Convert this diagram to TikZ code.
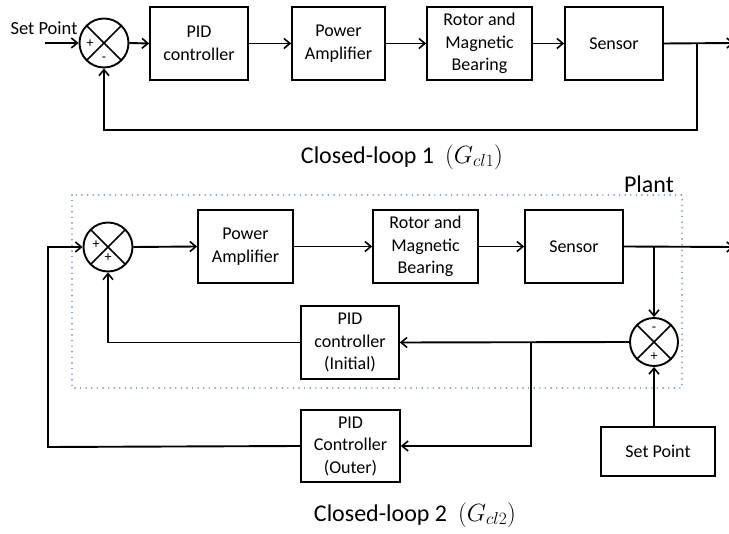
\documentclass[tikz,border=0pt]{standalone}
\usepackage{fontspec}
\setmainfont{Carlito}
\usetikzlibrary{arrows.meta}
\definecolor{plantblue}{RGB}{75,125,190}

\begin{document}
\begin{tikzpicture}[x=1pt,y=-1pt,
  wire/.style={line width=1.9pt},
  arr/.style={wire,-{Straight Barb[length=6pt,width=10pt,line width=1.6pt]}},
  blk/.style={draw, line width=1.7pt, rectangle, minimum width=#1, minimum height=73pt,
              align=center, inner sep=0pt, font=\fontsize{18}{22.5}\selectfont},
  blk/.default=98pt,
  sumjn/.style={draw, circle, line width=1.9pt, minimum size=49pt, inner sep=0pt,
              path picture={\draw[line width=1.7pt]
                (path picture bounding box.north west) -- (path picture bounding box.south east)
                (path picture bounding box.north east) -- (path picture bounding box.south west);}},
  sgn/.style={font=\fontsize{14}{14}\selectfont, inner sep=0pt},
  lbl/.style={font=\fontsize{18.5}{22}\selectfont, inner sep=0pt},
  captxt/.style={font=\fontsize{24}{28}\selectfont, inner sep=0pt},
  plantbox/.style={draw=plantblue, line width=1.6pt, line cap=round,
              dash pattern=on 0pt off 5.6pt}
]
\useasboundingbox (0,0) rectangle (729,534);

% ---------------- closed loop 1 ----------------
\node[lbl] (sp1) at (44,28) {Set Point};
\coordinate (in1) at (45,43);
\node[sumjn] (s1) at (104,43) {};
\node[sgn] (s1p) at (90,44) {+};
\node[sgn] (s1m) at (104,59) {-};
\node[blk=98pt]  (pid1) at (199,43.5) {PID\\controller};
\node[blk=93pt]  (pa1)  at (338.5,43.5) {Power\\Amplifier};
\node[blk=105pt] (rm1)  at (479.5,43.5) {Rotor and\\Magnetic\\Bearing};
\node[blk=98pt]  (sen1) at (614,43.5) {Sensor};
\coordinate (b1) at (697,43);
\coordinate (out1) at (734,43);
\coordinate (fb1) at (697,130);

\draw[arr] (in1) -- (s1.west);
\draw[arr] (s1.east) -- (pid1.west);
\draw[arr] (pid1.east) -- (pa1.west);
\draw[arr] (pa1.east) -- (rm1.west);
\draw[arr] (rm1.east) -- (sen1.west);
\draw[arr] (sen1.east) -- (out1);
\draw[arr] (b1) -- (fb1) -- (fb1 -| s1) -- (s1.south);

\node[captxt] (c1) at (402,157) {Closed-loop 1\ \ {\fontsize{23}{28}\selectfont$(G_{cl1})$}};

% ---------------- closed loop 2 ----------------
\draw[plantbox] (72,195) rectangle (682,388);
\node[captxt] (plant) at (649,184) {Plant};

\node[sumjn] (s2) at (108,247) {};
\node[sgn] (s2a) at (96,245) {+};
\node[sgn] (s2b) at (108,258) {+};
\node[blk=95pt]  (pa2)  at (245.5,246.5) {Power\\Amplifier};
\node[blk=105pt] (rm2)  at (425.5,246.5) {Rotor and\\Magnetic\\Bearing};
\node[blk=98pt]  (sen2) at (574,246.5) {Sensor};
\coordinate (out2) at (734,247);
\coordinate (b2) at (654,247);

\node[sumjn, minimum size=48pt] (s3) at (654,342) {};
\node[sgn] (s3m) at (654,329) {-};
\node[sgn] (s3p) at (654,357) {+};

\node[blk=98pt] (pidi) at (350,342.5) {PID\\controller\\(Initial)};
\node[blk=99pt, minimum height=72pt] (pido) at (350.5,446) {PID\\Controller\\(Outer)};
\node[blk=114pt, minimum height=49pt] (spb) at (658,451.5) {Set Point};
\coordinate (b3) at (531,342);
\coordinate (lo) at (48,447);

\draw[arr] (s2.east) -- (pa2.west);
\draw[arr] (pa2.east) -- (rm2.west);
\draw[arr] (rm2.east) -- (sen2.west);
\draw[arr] (sen2.east) -- (out2);
\draw[arr] (b2) -- (s3.north);
\draw[arr] (spb.north -| s3) -- (s3.south);
\draw[arr] (s3.west) -- (pidi.east);
\draw[arr] (pidi.west) -- (pidi.west -| s2) -- (s2.south);
\draw[arr] (b3) -- (b3 |- pido.east) -- (pido.east);
\draw[arr] (pido.west) -- (lo) -- (lo |- s2) -- (s2.west);

\node[captxt] (c2) at (415,515) {Closed-loop 2\ \ {\fontsize{23}{28}\selectfont$(G_{cl2})$}};
\end{tikzpicture}
\end{document}
